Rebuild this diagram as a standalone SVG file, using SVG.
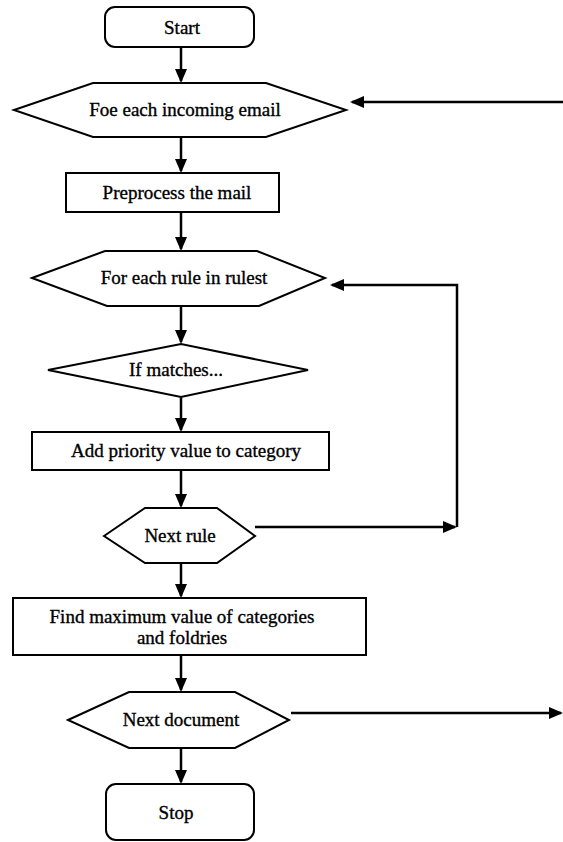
<svg xmlns="http://www.w3.org/2000/svg" width="563" height="842" viewBox="0 0 563 842">
<style>
.shape{fill:#fff;stroke:#000;stroke-width:2}
.lbl{font-family:"Liberation Serif","Times New Roman",serif;font-size:19px;fill:#000;stroke:#000;stroke-width:0.35;text-anchor:middle}
.conn{fill:none;stroke:#000;stroke-width:2.5}
</style>
<defs>
<marker id="ah" markerWidth="14" markerHeight="12" refX="12" refY="6" orient="auto" markerUnits="userSpaceOnUse">
<path d="M0,0 L14,6 L0,12 z" fill="#000"/>
</marker>
</defs>
<rect width="563" height="842" fill="#fff"/>
<g id="connectors">
<path class="conn" d="M181,47 L181,81" marker-end="url(#ah)"/>
<path class="conn" d="M563,102 L352,102" marker-end="url(#ah)"/>
<path class="conn" d="M181,137 L181,171" marker-end="url(#ah)"/>
<path class="conn" d="M181,212 L181,249" marker-end="url(#ah)"/>
<path class="conn" d="M181,306 L181,342" marker-end="url(#ah)"/>
<path class="conn" d="M181,398 L181,430" marker-end="url(#ah)"/>
<path class="conn" d="M181,470 L181,506" marker-end="url(#ah)"/>
<path class="conn" d="M255,527 L455,527" marker-end="url(#ah)"/>
<path class="conn" d="M457,527 L457,285 L332,285" marker-end="url(#ah)"/>
<path class="conn" d="M181,563 L181,596" marker-end="url(#ah)"/>
<path class="conn" d="M181,655 L181,690" marker-end="url(#ah)"/>
<path class="conn" d="M291,713 L561,713" marker-end="url(#ah)"/>
<path class="conn" d="M181,748 L181,782" marker-end="url(#ah)"/>
</g>
<g id="start">
<rect class="shape" x="105" y="7" width="149" height="40" rx="10"/>
<text class="lbl" x="182" y="34">Start</text>
</g>
<g id="foreach-email">
<polygon class="shape" points="14,110 93,83 266,83 346,110 266,137 93,137"/>
<text class="lbl" x="185" y="116">Foe each incoming email</text>
</g>
<g id="preprocess">
<rect class="shape" x="66" y="173" width="213" height="39"/>
<text class="lbl" x="177" y="199">Preprocess the mail</text>
</g>
<g id="foreach-rule">
<polygon class="shape" points="32,278 105,251 257,251 325,278 259,306 107,306"/>
<text class="lbl" x="184" y="284">For each rule in rulest</text>
</g>
<g id="if-matches">
<polygon class="shape" points="48,370 181,344 308,370 181,397"/>
<text class="lbl" x="176" y="376">If matches...</text>
</g>
<g id="add-priority">
<rect class="shape" x="32" y="432" width="297" height="38"/>
<text class="lbl" x="186" y="457">Add priority value to category</text>
</g>
<g id="next-rule">
<polygon class="shape" points="104,536 145,508 217,508 255,536 217,563 145,563"/>
<text class="lbl" x="180" y="542">Next rule</text>
</g>
<g id="find-max">
<rect class="shape" x="13" y="598" width="353" height="57"/>
<text class="lbl" x="182" y="623">Find maximum value of categories</text>
<text class="lbl" x="182" y="644">and foldries</text>
</g>
<g id="next-document">
<polygon class="shape" points="68,720 129,692 235,692 289,720 235,748 129,748"/>
<text class="lbl" x="181" y="726">Next document</text>
</g>
<g id="stop">
<rect class="shape" x="106" y="784" width="148" height="56" rx="10"/>
<text class="lbl" x="176" y="819">Stop</text>
</g>
</svg>
